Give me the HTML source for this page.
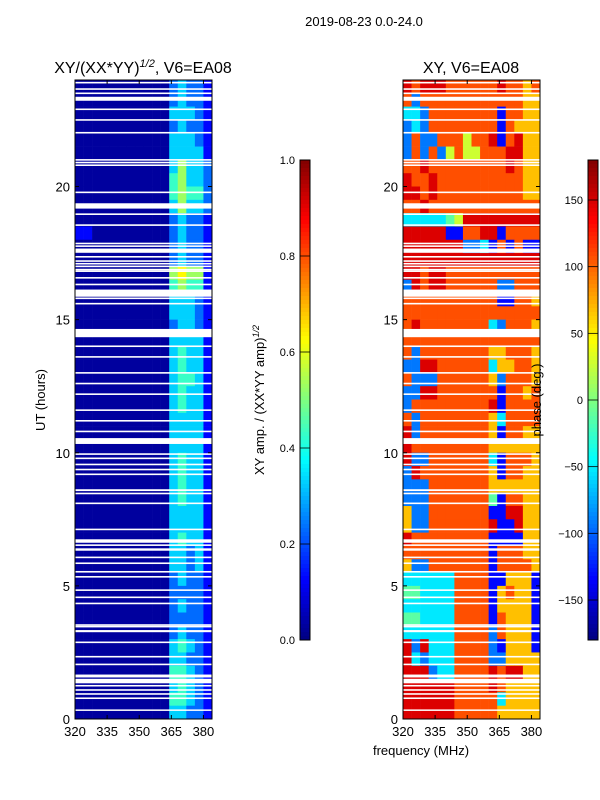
<!DOCTYPE html>
<html><head><meta charset="utf-8"><style>
body{margin:0;background:#fff;}
svg{display:block;font-family:"Liberation Sans","DejaVu Sans",sans-serif;}
</style></head><body>
<svg id="fig" width="600" height="800" viewBox="0 0 600 800" xmlns="http://www.w3.org/2000/svg">
<text x="364" y="26" font-size="13" text-anchor="middle">2019-08-23 0.0-24.0</text>
<text x="143" y="73" font-size="16" text-anchor="middle">XY/(XX*YY)<tspan dy="-6" font-size="11" font-style="italic">1/2</tspan><tspan dy="6">, V6=EA08</tspan></text>
<text x="471" y="73" font-size="16" text-anchor="middle">XY, V6=EA08</text>
<text transform="translate(45,400) rotate(-90)" font-size="13" text-anchor="middle">UT (hours)</text>
<text x="421" y="755" font-size="13" text-anchor="middle">frequency (MHz)</text>
<text transform="translate(264,400) rotate(-90)" font-size="13" text-anchor="middle">XY amp. / (XX*YY amp)<tspan dy="-5" font-size="9" font-style="italic">1/2</tspan></text>
<g id="left"></g>
<g id="right"></g>
<g id="cbars"></g>
<text transform="translate(541,400) rotate(-90)" font-size="13" text-anchor="middle">phase (deg.)</text>
</svg>
<script>
// Frequency bins (MHz, start of each 4 MHz bin)
const freqBins = [320,324,328,332,336,340,344,348,352,356,360,364,368,372,376,380];
const timeTicks = [0,5,10,15,20];
const freqTicks = [320,335,350,365,380];
const ampTicks = [0.0,0.2,0.4,0.6,0.8,1.0];
const phaseTicks = [-150,-100,-50,0,50,100,150];
// Amplitude rows, top (24h) to bottom (0h), half-hour each; digit d -> d/10
const ampRows = [
"0000000000023221","0000000000023221","0000000000033321","0000000000023221",
"0000000000033321","0000000000033331","0000000000035332","0000000000045332",
"0000000000045442","0000000000035332","0000000000023221","1100000000023221",
"0000000000023221","0000000000023221","0000000000056551","0000000000045441",
"0000000000033321","0000000000033321","0000000000023321","0000000000033331",
"0000000000034331","0000000000034331","0000000000034431","0000000000034331",
"0000000000034331","0000000000033331","0000000000033331","0000000000033331",
"0000000000034331","0000000000034331","0000000000034331","0000000000034331",
"0000000000033331","0000000000033331","0000000000034331","0000000000033231",
"0000000000033231","0000000000023221","0000000000022221","0000000000023221",
"0000000000022221","0000000000023221","0000000000034321","0000000000033221",
"0000000000044321","0000000000034321","0000000000044321","0000000000033221"];
// Phase rows, top (24h) to bottom; digit d -> -180 + 40*d degrees
const phaseRows = [
"8788877777787767","7277777777777766","3327777777717766","2327777777717666",
"2722777577817866","2727257557778866","7787777777778766","8778777777777766",
"8878777777777766","7787777777777777","3333345888888888","8888811778817777",
"8888888223171711","8888888888888888","8878877777777777","2878877777722777",
"7777777777711776","7777777777777777","7877777777327776","7777777777777777",
"7277777777667776","2288777777366776","7222777777627776","2288777777717767",
"2777777777817777","7277777777637777","8277777777617766","8777777777666666",
"8227777777317776","2877777777617766","2227777777666666","2227777777417766",
"6227777777118866","6227777777811866","8777777777111166","7777777777177766",
"6227777777177776","3333337777116661","4433337777167661","3333337777166661",
"4433337777176661","3333337777276661","8283337777216661","8323337777226666",
"8882337777878866","8888887777876666","8888887777736666","8888887777766666"];
// Flagged (blank) time ranges in hours
const flagged = [[23.87,23.93],[23.63,23.69],[23.47,23.53],[23.22,23.37],[22.87,22.93],[22.47,22.53],[21.99,22.05],
[20.97,21.03],[20.87,20.93],[20.77,20.83],[19.75,19.81],[19.17,19.37],[18.93,18.99],[18.52,18.58],[17.83,17.89],[17.73,17.79],
[17.51,17.67],[17.33,17.39],[17.17,17.23],[17.07,17.13],[16.97,17.03],[16.85,16.91],[16.79,16.85],[16.54,16.6],[16.29,16.35],
[15.86,16.13],[15.77,15.83],[15.57,15.63],[14.34,14.65],[13.97,14.03],[13.57,13.63],[12.97,13.03],[12.57,12.63],[12.17,12.23],
[11.57,11.63],[11.17,11.23],[10.77,10.83],[10.33,10.55],[9.92,9.98],[9.76,9.82],[9.53,9.59],[9.34,9.4],[9.16,9.22],
[8.56,8.63],[8.44,8.5],[8.07,8.13],[7.09,7.15],[6.62,6.75],[6.5,6.56],[6.32,6.41],[6.04,6.1],[5.82,5.88],[5.5,5.56],[5.31,5.37],
[4.81,4.87],[4.54,4.6],[4.31,4.37],[3.5,3.56],[3.44,3.5],[3.26,3.34],[2.85,2.91],[2.31,2.37],[2.02,2.08],[1.61,1.67],[1.56,1.62],
[1.34,1.51],[1.22,1.28],[1.06,1.12],[0.91,0.97],[0.75,0.81],[0.31,0.36]];

const NS="http://www.w3.org/2000/svg";
const T0=80,T1=719;
const yOf=h=>T1-(h/24)*(T1-T0);
function jet(v){v=Math.max(0,Math.min(1,v));
 const c=x=>Math.round(255*Math.max(0,Math.min(1,x)));
 const r=1.5-Math.abs(4*v-3),g=1.5-Math.abs(4*v-2),b=1.5-Math.abs(4*v-1);
 return `rgb(${c(r)},${c(g)},${c(b)})`;}
function mk(tag,attrs,parent){const e=document.createElementNS(NS,tag);for(const k in attrs)e.setAttribute(k,attrs[k]);parent.appendChild(e);return e;}

function panel(gid,x0,rows,toVal){
 const g=document.getElementById(gid);
 const xOf=f=>x0+(f-320)*(137/64);
 const nR=rows.length;
 rows.forEach((row,i)=>{
  const hTop=24-i*24/nR,hBot=24-(i+1)*24/nR;
  for(let j=0;j<freqBins.length;j++){
   const v=toVal(+row[j]);
   const r=mk('rect',{x:xOf(freqBins[j]),y:yOf(hTop),width:xOf(freqBins[j]+4)-xOf(freqBins[j])+0.3,height:yOf(hBot)-yOf(hTop)+0.3,fill:jet(v)},g);
   
   
  }
 });
 flagged.forEach(f=>{
  const r=mk('rect',{x:x0,y:yOf(f[1]),width:137,height:Math.max(1.5,yOf(f[0])-yOf(f[1])),fill:'#fff'},g);
  
  
 });
 const fr=mk('rect',{x:x0,y:T0,width:137,height:T1-T0,fill:'none',stroke:'#000','stroke-width':1},g);
 
 
 timeTicks.forEach(t=>{
  const y=yOf(t);
  mk('line',{x1:x0,x2:x0+4,y1:y,y2:y,stroke:'#000'},g);
  mk('line',{x1:x0+133,x2:x0+137,y1:y,y2:y,stroke:'#000'},g);
  const tx=mk('text',{x:x0-5,y:y+5,'font-size':13,'text-anchor':'end'},g);
  tx.textContent=t;
  
  
 });
 freqTicks.forEach(f=>{
  const x=xOf(f);
  mk('line',{x1:x,x2:x,y1:T1,y2:T1-4,stroke:'#000'},g);
  mk('line',{x1:x,x2:x,y1:T0,y2:T0+4,stroke:'#000'},g);
  const tx=mk('text',{x:x,y:T1+17,'font-size':13,'text-anchor':'middle'},g);
  tx.textContent=f;
  
  
 });
}
panel('left',75,ampRows,d=>d/10+0.03);
panel('right',403,phaseRows,d=>(-180+40*d+180)/360+0.02);

function cbar(x0,vmin,vmax,ticks,name,fmt){
 const g=document.getElementById('cbars');
 const top=160,bot=640;
 for(let i=0;i<120;i++){
  mk('rect',{x:x0,y:top+i*4,width:10,height:4.3,fill:jet(1-(i+0.5)/120)},g);
 }
 const fr=mk('rect',{x:x0,y:top,width:10,height:bot-top,fill:'none',stroke:'#000'},g);
 
 
 ticks.forEach(t=>{
  const y=bot-(t-vmin)/(vmax-vmin)*(bot-top);
  mk('line',{x1:x0,x2:x0+10,y1:y,y2:y,stroke:'#000','stroke-width':0.8},g);
  const tx=mk('text',{x:x0-5,y:y+4,'font-size':11,'text-anchor':'end'},g);
  tx.textContent=fmt(t);
  
  
 });
}
cbar(300,0,1,ampTicks,'amplitude-colorbar',t=>t.toFixed(1));
cbar(588,-180,180,phaseTicks,'phase-colorbar',t=>t<0?'\u2212'+(-t):String(t));
</script>
</body></html>
